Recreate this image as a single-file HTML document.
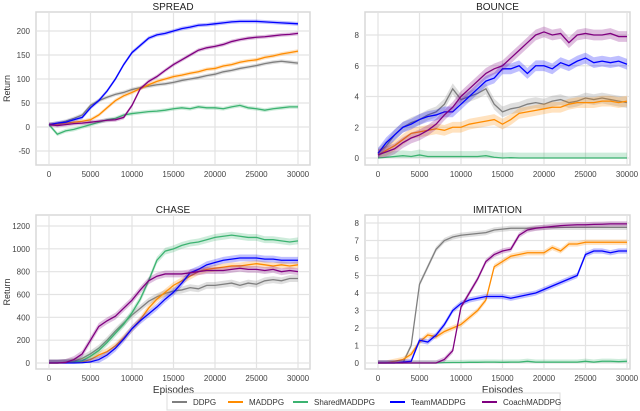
<!DOCTYPE html>
<html><head><meta charset="utf-8"><style>
body{margin:0;background:#fff;}
svg{display:block;font-family:"Liberation Sans","DejaVu Sans",sans-serif;}
</style></head><body>
<svg id="c" width="640" height="411" viewBox="0 0 640 411"></svg>
<script>
const episodes=[0,1000,2000,3000,4000,5000,6000,7000,8000,9000,10000,11000,12000,13000,14000,15000,16000,17000,18000,19000,20000,21000,22000,23000,24000,25000,26000,27000,28000,29000,30000];
const seriesNames=["DDPG","MADDPG","SharedMADDPG","TeamMADDPG","CoachMADDPG"];
const xTicks=[0,5000,10000,15000,20000,25000,30000];
const spreadTicks=[-50,0,50,100,150,200];
const bounceTicks=[0,2,4,6,8];
const chaseTicks=[0,200,400,600,800,1000,1200];
const imitTicks=[0,1,2,3,4,5,6,7,8];
const spreadDDPG=[5,8,12,18,25,45,55,62,68,72,78,82,85,88,90,93,97,100,103,107,110,115,118,122,125,128,132,135,137,135,133];
const spreadMADDPG=[5,6,8,10,12,15,25,40,55,65,72,80,88,95,100,105,108,112,115,120,122,127,130,135,138,140,145,148,152,155,158];
const spreadShared=[5,-15,-8,-5,0,5,10,15,18,25,28,30,32,33,35,38,40,38,42,40,40,38,42,45,40,38,35,38,40,42,42];
const spreadTeam=[5,8,10,15,20,40,55,75,100,130,155,170,185,192,195,200,205,208,212,213,215,217,219,220,220,220,219,218,217,216,215];
const spreadCoach=[5,3,5,7,8,10,12,14,15,20,45,80,95,105,118,130,140,150,160,165,168,172,178,182,185,187,188,190,192,193,195];
const bounceDDPG=[0.3,0.8,1.5,2.0,2.3,2.5,2.8,3.0,3.5,4.5,3.8,4.0,4.2,4.5,3.5,3.0,3.2,3.3,3.5,3.6,3.5,3.7,3.8,3.6,3.7,3.9,3.8,3.9,3.8,3.7,3.6];
const bounceMADDPG=[0.2,0.5,0.8,1.2,1.6,1.7,1.8,1.9,1.8,2.0,2.0,2.2,2.3,2.4,2.5,2.2,2.5,2.9,3.0,3.1,3.2,3.3,3.3,3.5,3.6,3.6,3.6,3.7,3.7,3.6,3.7];
const bounceShared=[0,0.05,0.1,0.15,0.1,0.2,0.1,0.1,0.1,0.1,0.1,0.1,0.1,0.15,0.05,0,0.02,0,0,0,0,0,0,0,0,0,0,0,0,0,0];
const bounceTeam=[0.3,1.0,1.5,2.0,2.2,2.5,2.7,2.8,3.0,3.0,3.5,4.0,4.5,5.0,5.2,5.8,5.8,6.0,5.5,6.0,6.0,5.8,6.2,6.0,6.3,6.5,6.2,6.3,6.2,6.3,6.1];
const bounceCoach=[0.2,0.4,0.6,1.0,1.3,1.5,1.8,2.2,2.8,3.3,4.0,4.5,5.0,5.5,5.8,6.0,6.5,7.0,7.5,8.0,8.2,8.0,8.1,7.5,8.0,8.1,8.0,8.0,8.1,7.9,7.9];
const chaseDDPG=[0,0,5,15,40,80,130,200,280,350,420,480,540,580,610,630,640,660,650,680,680,690,700,680,700,690,720,730,720,740,740];
const chaseMADDPG=[0,0,0,5,10,30,70,100,150,220,300,380,480,560,620,680,720,760,800,820,830,840,850,850,860,870,860,850,860,850,860];
const chaseShared=[0,0,2,10,20,60,110,180,260,340,440,560,720,900,980,1000,1030,1050,1060,1080,1100,1110,1120,1110,1100,1100,1080,1080,1070,1060,1070];
const chaseTeam=[0,0,0,0,2,10,30,70,130,210,300,370,430,490,560,620,700,790,820,860,880,900,910,920,920,920,910,910,900,900,900];
const chaseCoach=[0,0,5,30,80,200,320,370,410,480,550,640,720,760,780,780,780,790,800,810,810,810,820,830,820,820,810,820,800,810,800];
const imitDDPG=[0,0,0,0,1.0,4.5,5.5,6.5,7.0,7.2,7.3,7.35,7.4,7.45,7.6,7.65,7.7,7.7,7.7,7.72,7.75,7.75,7.75,7.75,7.75,7.75,7.75,7.75,7.75,7.75,7.75];
const imitMADDPG=[0,0,0.1,0.2,0.5,1.2,1.6,1.5,1.8,2.0,2.2,2.6,3.0,3.6,5.5,5.8,6.1,6.2,6.3,6.3,6.3,6.6,6.4,6.8,6.8,6.9,6.9,6.9,6.9,6.9,6.9];
const imitShared=[0,0,0,0,0,0,0,0,0.02,0.03,0.03,0.04,0.04,0.05,0.05,0.04,0.05,0.05,0.1,0.05,0.05,0.05,0.05,0.05,0.05,0.1,0.05,0.1,0.1,0.08,0.1];
const imitTeam=[0,0,0,0.05,0.1,1.3,1.2,1.6,2.2,3.0,3.4,3.6,3.7,3.8,3.8,3.8,3.7,3.8,3.9,4.0,4.2,4.4,4.6,4.8,5.0,6.2,6.4,6.4,6.3,6.4,6.4];
const imitCoach=[0,0,0,0,0,0,0,0,0.2,0.7,3.2,4.0,4.8,5.8,6.2,6.4,6.5,7.3,7.6,7.7,7.75,7.8,7.85,7.88,7.9,7.9,7.92,7.93,7.95,7.95,7.95];

const colors=["#7f7f7f","#ff8c00","#3cb371","#0000ff","#800080"];
const NS="http://www.w3.org/2000/svg";
const svg=document.getElementById("c");
function el(tag,attrs,parent){const e=document.createElementNS(NS,tag);for(const k in attrs)e.setAttribute(k,attrs[k]);(parent||svg).appendChild(e);return e;}

const panels=[
 {key:"spread",title:"SPREAD",box:[36,12,310,165],x0:49,x1:298,yv0:0,yp0:127,yv1:200,yp1:31,ticks:spreadTicks,data:[spreadDDPG,spreadMADDPG,spreadShared,spreadTeam,spreadCoach],band:4,ylabel:true,xlabel:false},
 {key:"bounce",title:"BOUNCE",box:[365,12,630,165],x0:378,x1:627,yv0:0,yp0:158,yv1:8,yp1:35,ticks:bounceTicks,data:[bounceDDPG,bounceMADDPG,bounceShared,bounceTeam,bounceCoach],band:0.35,ylabel:false,xlabel:false},
 {key:"chase",title:"CHASE",box:[36,215,310,369],x0:49,x1:298,yv0:0,yp0:363,yv1:1200,yp1:226,ticks:chaseTicks,data:[chaseDDPG,chaseMADDPG,chaseShared,chaseTeam,chaseCoach],band:30,ylabel:true,xlabel:true},
 {key:"imitation",title:"IMITATION",box:[365,215,630,369],x0:378,x1:627,yv0:0,yp0:363,yv1:8,yp1:223,ticks:imitTicks,data:[imitDDPG,imitMADDPG,imitShared,imitTeam,imitCoach],band:0.15,ylabel:false,xlabel:true}
];

panels.forEach(p=>{
 const g=el("g",{});
 
 
 const xs=v=>p.x0+(v/30000)*(p.x1-p.x0);
 const ys=v=>p.yp0+(v-p.yv0)*(p.yp1-p.yp0)/(p.yv1-p.yv0);
 const [bx0,by0,bx1,by1]=p.box;
 const bg=el("rect",{x:bx0,y:by0,width:bx1-bx0,height:by1-by0,fill:"#fff",stroke:"#d8d8d8","stroke-width":1.5},g);
 
 
 xTicks.forEach(t=>{
  el("line",{x1:xs(t),x2:xs(t),y1:by0,y2:by1,stroke:"#e3e3e3","stroke-width":1.2},g);
  const tx=el("text",{x:xs(t),y:by1+12,"font-size":8,fill:"#444","text-anchor":"middle"},g);
  tx.textContent=t;
  
  
 });
 p.ticks.forEach(t=>{
  el("line",{x1:bx0,x2:bx1,y1:ys(t),y2:ys(t),stroke:"#e3e3e3","stroke-width":1.2},g);
  const ty=el("text",{x:bx0-6,y:ys(t)+3,"font-size":8,fill:"#444","text-anchor":"end"},g);
  ty.textContent=t;
  
  
 });
 const tt=el("text",{x:(bx0+bx1)/2,y:by0-2,"font-size":10,fill:"#222","text-anchor":"middle"},g);
 tt.textContent=p.title;
 
 
 if(p.ylabel){
  const yl=el("text",{x:0,y:0,"font-size":9,fill:"#333","text-anchor":"middle",transform:"translate(10,"+((by0+by1)/2)+") rotate(-90)"},g);
  yl.textContent="Return";
  
  
 }
 if(p.xlabel){
  const xl=el("text",{x:(p.x0+p.x1)/2,y:by1+24,"font-size":10,fill:"#333","text-anchor":"middle"},g);
  xl.textContent="Episodes";
  
  
 }
 p.data.forEach((arr,si)=>{
  const up=arr.map((v,i)=>xs(episodes[i])+","+ys(v+p.band)).join(" ");
  const dn=arr.map((v,i)=>xs(episodes[i])+","+ys(Math.max(p.yv0===0&&p.key!=="spread"?0:-1e9,v-p.band))).reverse().join(" ");
  const band=el("polygon",{points:up+" "+dn,fill:colors[si],"fill-opacity":0.25,stroke:"none"},g);
  
  
  const pts=arr.map((v,i)=>xs(episodes[i])+","+ys(v)).join(" ");
  const line=el("polyline",{points:pts,fill:"none",stroke:colors[si],"stroke-width":1.3},g);
  
  
 });
});

const lg=el("g",{});


el("rect",{x:167,y:393,width:393,height:17,fill:"#fff",stroke:"#ddd","stroke-width":1},lg);
const lx=[172,228,293,390,482];
seriesNames.forEach((n,i)=>{
 const e=el("g",{},lg);
 
 
 el("line",{x1:lx[i],x2:lx[i]+15,y1:402,y2:402,stroke:colors[i],"stroke-width":2},e);
 const t=el("text",{x:lx[i]+21,y:405,"font-size":8,fill:"#333"},e);
 t.textContent=n;
});
</script>
</body></html>
